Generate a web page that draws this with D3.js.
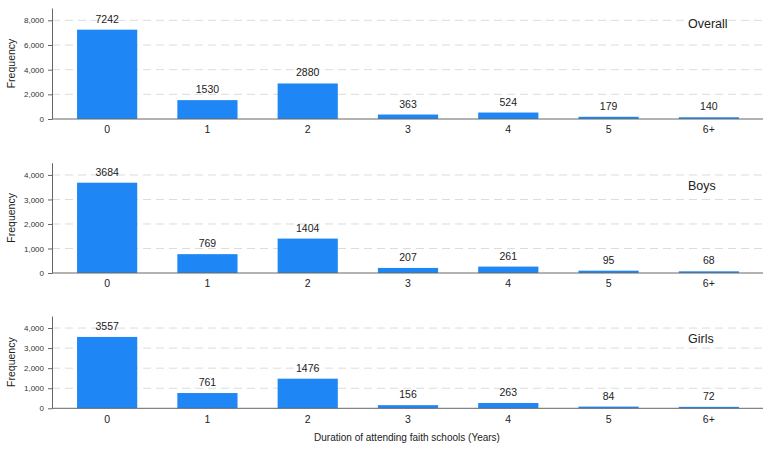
<!DOCTYPE html>
<html>
<head>
<meta charset="utf-8">
<script src="https://cdn.jsdelivr.net/npm/d3@7"></script>
<style>
  body { margin: 0; background: #fff; }
  svg { font-family: Arial, "Liberation Sans", sans-serif; }
</style>
</head>
<body>
<svg width="772" height="449"></svg>
<script>
// data
const categories = ["0", "1", "2", "3", "4", "5", "6+"];
const overall = [7242, 1530, 2880, 363, 524, 179, 140];
const boys = [3684, 769, 1404, 207, 261, 95, 68];
const girls = [3557, 761, 1476, 156, 263, 84, 72];
const panelTitles = ["Overall", "Boys", "Girls"];
const yMax = [9000, 4500, 4600];
const yTicks = [[0, 2000, 4000, 6000, 8000], [0, 1000, 2000, 3000, 4000], [0, 1000, 2000, 3000, 4000]];

// layout
const panels = [
  {top: 8, bottom: 119, titleY: 28},
  {top: 162.7, bottom: 273, titleY: 190},
  {top: 316, bottom: 408.3, titleY: 343}
];
const axisLeft = 52, axisRight = 763;
const barColor = "#1f86f6";

const svg = d3.select("svg");

const x = d3.scaleBand()
    .domain(categories)
    .range([57, 759])
    .paddingInner(0.4)
    .paddingOuter(0.2);

const series = [overall, boys, girls];

series.forEach((values, i) => {
    const p = panels[i];
    const y = d3.scaleLinear()
        .domain([0, yMax[i]])
        .range([p.bottom, p.top]);

    const g = svg.append("g");

    // grid
    g.selectAll(".grid")
        .data(yTicks[i].filter(t => t > 0))
        .enter().append("line")
        .attr("x1", axisLeft)
        .attr("x2", axisRight)
        .attr("y1", d => y(d))
        .attr("y2", d => y(d))
        .attr("stroke", "#dcdcdc")
        .attr("stroke-width", 1)
        .attr("stroke-dasharray", "8,5");

    // bars
    g.selectAll(".bar")
        .data(values)
        .enter().append("rect")
        .attr("x", (d, j) => x(categories[j]))
        .attr("y", d => y(d))
        .attr("width", x.bandwidth())
        .attr("height", d => p.bottom - y(d))
        .attr("fill", barColor);

    // value labels
    g.selectAll(".label")
        .data(values)
        .enter().append("text")
        .attr("x", (d, j) => x(categories[j]) + x.bandwidth() / 2)
        .attr("y", d => y(d) - 7)
        .attr("text-anchor", "middle")
        .style("font-size", "10.5px")
        .style("fill", "#222")
        .text(d => d);

    // y axis
    const ya = g.append("g")
        .attr("transform", `translate(${axisLeft},0)`)
        .call(d3.axisLeft(y).tickValues(yTicks[i]).tickSizeInner(4).tickSizeOuter(0).tickPadding(4).tickFormat(d3.format(",")));
    ya.select(".domain").attr("stroke", "#666");
    ya.selectAll(".tick line").attr("stroke", "#666");
    ya.selectAll("text").style("font-size", "8px").style("fill", "#333").attr("font-family", null);

    // x axis
    const xa = g.append("g")
        .attr("transform", `translate(0,${p.bottom})`)
        .call(d3.axisBottom(x).tickSize(0).tickPadding(7));
    xa.select(".domain").remove();
    xa.selectAll("text").style("font-size", "10.5px").style("fill", "#222").attr("font-family", null);
    g.append("line")
        .attr("x1", axisLeft)
        .attr("x2", axisRight)
        .attr("y1", p.bottom)
        .attr("y2", p.bottom)
        .attr("stroke", "#666");

    // y label
    g.append("text")
        .attr("transform", `translate(15,${(p.top + p.bottom) / 2}) rotate(-90)`)
        .attr("text-anchor", "middle")
        .style("font-size", "10.5px")
        .style("fill", "#222")
        .text("Frequency");

    // panel title
    g.append("text")
        .attr("x", 688)
        .attr("y", p.titleY)
        .style("font-size", "12.5px")
        .style("fill", "#222")
        .text(panelTitles[i]);
});

// x-axis label
svg.append("text")
    .attr("x", 407)
    .attr("y", 441)
    .attr("text-anchor", "middle")
    .style("font-size", "10px")
    .style("fill", "#222")
    .text("Duration of attending faith schools (Years)");
</script>
</body>
</html>
